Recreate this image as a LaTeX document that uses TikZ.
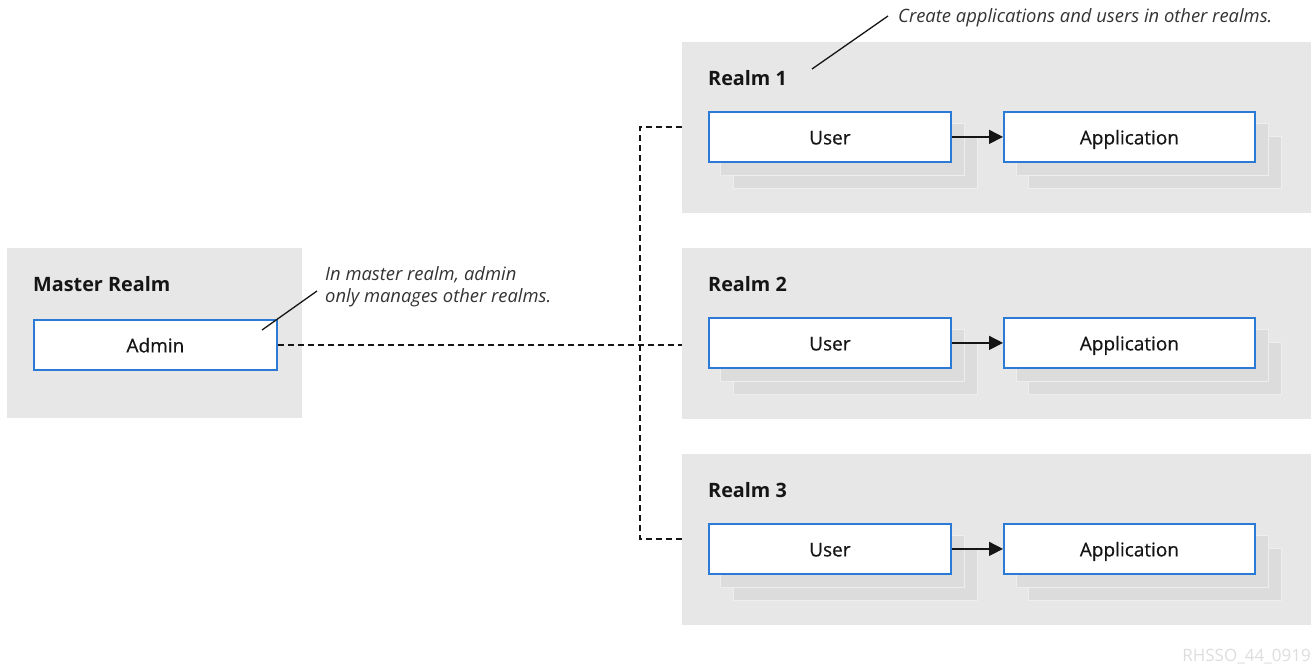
\documentclass[tikz,border=0pt]{standalone}
\usepackage{fontspec}
\setmainfont{Open Sans}
\newfontfamily\medfont{Open Sans}[FakeBold=0.5]
\usetikzlibrary{arrows.meta}
\definecolor{realmgray}{HTML}{E7E7E7}
\definecolor{shadowgray}{HTML}{DCDCDC}
\definecolor{shadowedge}{HTML}{EEEEEE}
\definecolor{boxblue}{HTML}{2B7AD6}
\definecolor{txt}{HTML}{151515}
\definecolor{note}{HTML}{333333}
\definecolor{stamp}{HTML}{DDDDDD}
\begin{document}
\begin{tikzpicture}[x=1pt,y=-1pt,
  realm/.style={fill=realmgray, draw=none, inner sep=0, anchor=north west},
  title/.style={anchor=west, inner sep=0, font=\fontsize{19.8}{22}\selectfont\bfseries, text=txt},
  entity/.style={draw=boxblue, line width=1.8pt, fill=white, inner sep=0, anchor=north west,
     minimum height=50, text height=17.5pt, text depth=2.5pt, font=\fontsize{19}{22}\medfont, text=txt},
  shadowbox/.style={fill=shadowgray, draw=shadowedge, line width=1pt, inner sep=0, anchor=north west, minimum height=52},
  conn/.style={dashed, dash pattern=on 6pt off 4pt, line width=1.3pt, draw=txt},
  flow/.style={line width=1.5pt, draw=txt, -{Triangle[length=14pt,width=14pt]}},
  pointer/.style={line width=1.3pt, draw=txt},
  notetext/.style={font=\fontsize{18.4}{22}\selectfont\itshape, text=note, inner sep=0, align=left}
]
\useasboundingbox (0,0) rectangle (1313,666);

% Master realm
\node[realm, minimum width=295, minimum height=170] (master) at (7,248) {};
\node[title] (mastertitle) at (33,284) {Master Realm};
\node[entity, minimum width=243] (admin) at (33,319) {Admin};

% Realms
\foreach \i/\t in {1/42,2/248,3/454}{
  \node[realm, minimum width=629, minimum height=171] (r\i) at (682,\t) {};
  \node[title] (r\i title) at (708,\t+36) {Realm \i};
  \node[shadowbox, minimum width=244] (us\i b) at (733,\t+94) {};
  \node[shadowbox, minimum width=244] (us\i a) at (720,\t+81) {};
  \node[entity, minimum width=242] (user\i) at (708,\t+69) {User};
  \node[shadowbox, minimum width=253] (as\i b) at (1028,\t+94) {};
  \node[shadowbox, minimum width=252] (as\i a) at (1016,\t+81) {};
  \node[entity, minimum width=251] (app\i) at (1003,\t+69) {Application};
  \draw[flow] (user\i.east) -- (app\i.west);
}

% Dashed connectors
\coordinate (j1) at (640,127);
\coordinate (j3) at (640,539);
\coordinate (e1) at (682,127);
\coordinate (e3) at (682,539);
\draw[conn] (admin.east) -- (admin.east -| r2.west);
\draw[conn] (e1) -- (j1) -- (j3) -- (e3);

% Annotations
\coordinate (p1) at (262,330);
\coordinate (p2) at (317,291);
\draw[pointer] (p1) -- (p2);
\node[notetext, anchor=north west] (note1) at (325,266) {In master realm, admin\\only manages other realms.};

\coordinate (q1) at (812,69);
\coordinate (q2) at (888,16);
\draw[pointer] (q1) -- (q2);
\node[notetext, anchor=west] (note2) at (898,18) {Create applications and users in other realms.};

\node[anchor=east, inner sep=0, text=stamp, font=\fontsize{17}{19}\selectfont] (stamp) at (1311,657) {RHSSO\_44\_0919};
\end{tikzpicture}
\end{document}
